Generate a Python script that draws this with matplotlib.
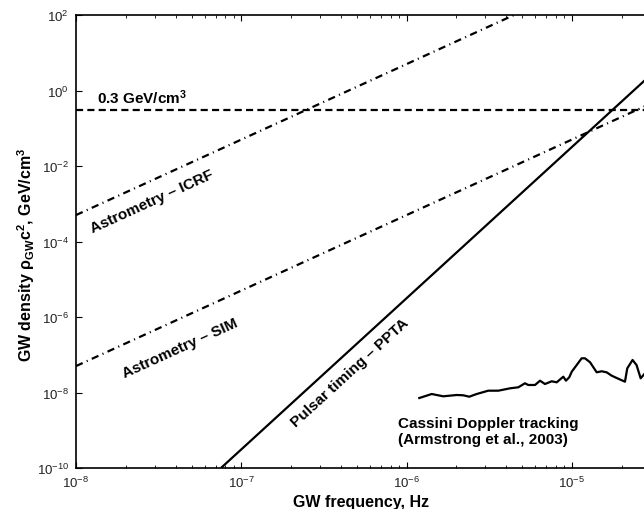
import matplotlib
matplotlib.use("Agg")
import matplotlib.pyplot as plt
import numpy as np

plt.rcParams["font.family"] = ["Liberation Sans", "DejaVu Sans"]
plt.rcParams["mathtext.fontset"] = "custom"
plt.rcParams["mathtext.rm"] = "Liberation Sans"
plt.rcParams["mathtext.bf"] = "Liberation Sans:bold"
plt.rcParams["mathtext.it"] = "Liberation Sans:italic"

# dark matter local density, GeV/cm^3
dm_density = 0.3

# straight sensitivity curves: (frequency, density) end points
icrf_freq = [1e-8, 1e-4]
icrf_rho = [10 ** -3.3, 10 ** 4.7]
sim_freq = [1e-8, 1e-4]
sim_rho = [10 ** -7.3, 10 ** 0.7]
ppta_freq = [10 ** -7.123, 1e-4]
ppta_rho = [1e-10, 10 ** 2.508]

# Cassini Doppler tracking (log10 values)
cassini_logf = [-5.923, -5.848, -5.778, -5.697, -5.657, -5.621, -5.576, -5.506,
                -5.445, -5.374, -5.324, -5.284, -5.264, -5.223, -5.193, -5.163,
                -5.122, -5.092, -5.052, -5.036, -5.016, -5.001, -4.971, -4.941,
                -4.921, -4.890, -4.850, -4.820, -4.790, -4.759, -4.729, -4.679,
                -4.665, -4.633, -4.609, -4.584, -4.558]
cassini_logrho = [-8.146, -8.040, -8.101, -8.066, -8.074, -8.111, -8.040, -7.952,
                  -7.952, -7.889, -7.862, -7.756, -7.801, -7.801, -7.687, -7.775,
                  -7.703, -7.730, -7.581, -7.687, -7.597, -7.449, -7.272, -7.094,
                  -7.094, -7.200, -7.465, -7.438, -7.465, -7.555, -7.616, -7.714,
                  -7.359, -7.139, -7.272, -7.624, -7.491]

fig = plt.figure(figsize=(6.44, 5.10), dpi=100, facecolor="white")
ax = fig.add_axes([76 / 644, 41 / 510, 570 / 644, 453 / 510])

lw = 1.6
ax.plot([1e-8, 1e-4], [dm_density, dm_density], color="black", lw=lw, ls=(0, (3.2, 1.9)))
ax.plot(icrf_freq, icrf_rho, color="black", lw=lw, ls=(0, (3.3, 2.0, 0.5, 2.0)))
ax.plot(sim_freq, sim_rho, color="black", lw=lw, ls=(0, (3.3, 2.0, 0.5, 2.0)))
ax.plot(ppta_freq, ppta_rho, color="black", lw=lw, solid_capstyle="butt")
ax.plot(10 ** np.array(cassini_logf), 10 ** np.array(cassini_logrho), color="black", lw=lw)

ax.set_xscale("log")
ax.set_yscale("log")
ax.set_xlim(1e-8, 10 ** (-8 + 570 / 165.3))
ax.set_ylim(1e-10, 1e2)
ax.set_yticks([1e-10, 1e-8, 1e-6, 1e-4, 1e-2, 1e0, 1e2])
ax.set_xticks([1e-8, 1e-7, 1e-6, 1e-5])
ax.yaxis.set_minor_locator(matplotlib.ticker.NullLocator())
ax.tick_params(which="both", direction="in", top=True, right=False, labelsize=9.5,
               labelcolor="#222222")
ax.tick_params(which="major", length=4, width=0.8, pad=5)
ax.tick_params(which="minor", length=2.5, width=0.6)
ax.spines["right"].set_visible(False)
for s in ["left", "bottom", "top"]:
    ax.spines[s].set_linewidth(1.2)

ax.set_xlabel("GW frequency, Hz", fontsize=11.5, fontweight="bold", labelpad=3)
ax.set_ylabel(r"GW density ρ$_{\mathbf{GW}}\mathbf{c}^{\mathbf{2}}$, GeV/cm$^{\mathbf{3}}$",
              fontsize=11.5, fontweight="bold", labelpad=4)
ax.yaxis.set_label_coords(-0.068, 0.472)

kw = dict(fontsize=11, fontweight="bold", rotation_mode="anchor", ha="left", va="baseline")
ax.text(10 ** -7.873, 10 ** -0.33, r"0.3 GeV/cm$^{\mathbf{3}}$", **kw)
ax.text(10 ** -7.9, 10 ** -3.75, "Astrometry – ICRF", rotation=24.5, **kw)
ax.text(10 ** -7.704, 10 ** -7.59, "Astrometry – SIM", rotation=24.5, **kw)
ax.text(10 ** -6.67, 10 ** -8.91, "Pulsar timing – PPTA", rotation=42.4, **kw)
ax.text(10 ** -6.052, 10 ** -8.62, "Cassini Doppler tracking\n(Armstrong et al., 2003)",
        fontsize=11, fontweight="bold", ha="left", va="top", linespacing=1.2)

fig.savefig("out.png", dpi=100, facecolor="white")
